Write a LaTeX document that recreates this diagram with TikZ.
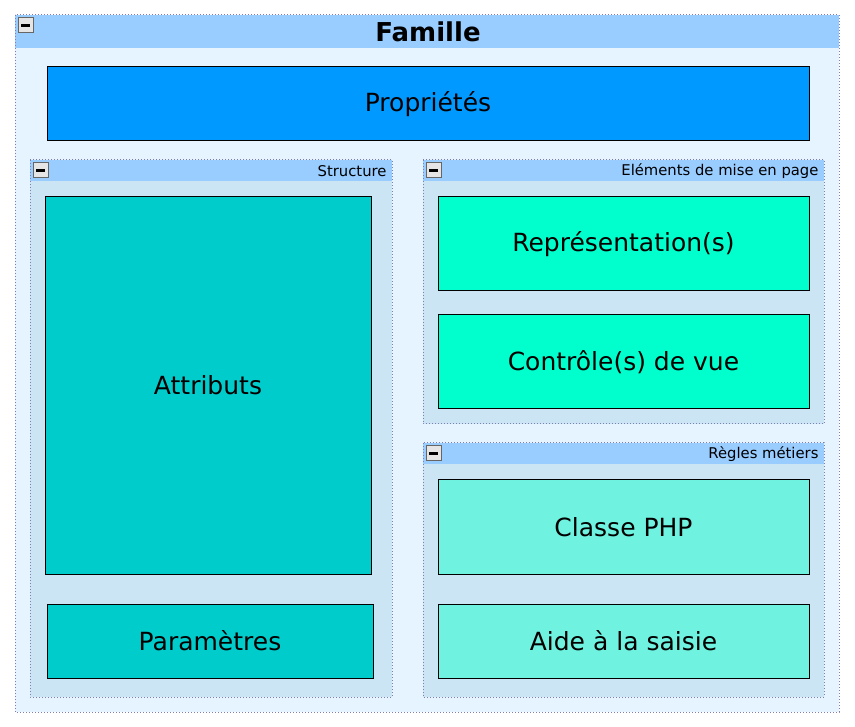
\documentclass[tikz,border=0pt]{standalone}
\usepackage{fontspec}
\setmainfont{DejaVu Sans}
\usepackage{tikz}
\usetikzlibrary{shapes}

\definecolor{framebg}{HTML}{E6F4FF}
\definecolor{headbg}{HTML}{99CCFF}
\definecolor{groupbg}{HTML}{CCE5F5}
\definecolor{dotcol}{HTML}{8080B0}
\definecolor{propcol}{HTML}{0099FF}
\definecolor{structcol}{HTML}{00CCCC}
\definecolor{miscol}{HTML}{00FFCC}
\definecolor{regcol}{HTML}{6FF2E0}

\begin{document}
\begin{tikzpicture}[x=1pt,y=-1pt,line width=1pt]
\tikzstyle{frame}=[rectangle,draw=dotcol,dash pattern=on 1pt off 2pt,line width=1pt]
\tikzstyle{item}=[rectangle,draw=black,inner sep=0pt,font=\fontsize{25}{29}\selectfont]
\tikzstyle{toggle}=[rectangle,draw=gray!80!black,fill=gray!20,minimum size=15pt,inner sep=0pt,
  path picture={\fill[black] (path picture bounding box.center) +(-4.5,-1.5) rectangle +(4.5,1.5);}]
\tikzstyle{grouplabel}=[anchor=east,inner sep=0pt,font=\fontsize{14.8}{17}\selectfont]
\useasboundingbox (0,0) rectangle (855,727);

% outer frame
\fill[framebg] (15,15) rectangle (839,712);
\fill[headbg] (15,15) rectangle (839,48);
\draw[frame] (15,15) rectangle (839,712);
\node[toggle] (ftoggle) at (25.5,25.5) {};
\node[font=\bfseries\fontsize{26}{30}\selectfont] (famille) at (428,32) {Famille};

\node[item,fill=propcol,minimum width=762pt,minimum height=74pt] (prop) at (428,104) {Propriétés};

% groups
\foreach \name/\xa/\ya/\xb/\yb/\txt in {struct/30/160/392/697/Structure,
    mise/423/160/824/424/Eléments de mise en page,
    regles/423/443/824/697/Règles métiers}{
  \fill[groupbg] (\xa,\ya) rectangle (\xb,\yb);
  \fill[headbg] (\xa,\ya) rectangle (\xb,\ya+21);
  \draw[frame] (\xa,\ya) rectangle (\xb,\yb);
  \node[toggle] (\name-toggle) at (\xa+10.5,\ya+10.5) {};
  \node[grouplabel] (\name-label) at (\xb-5,\ya+11) {\txt};
}

% structure
\node[item,fill=structcol,minimum width=326pt,minimum height=377pt] (attr) at (208,385.5) {Attributs};
\node[item,fill=structcol,minimum width=326pt,minimum height=74pt] (param) at (210,641) {Paramètres};

% mise en page
\node[item,fill=miscol,minimum width=371pt,minimum height=94pt] (repr) at (623.5,244) {Représentation(s)};
\node[item,fill=miscol,minimum width=371pt,minimum height=94pt] (ctrl) at (623.5,362) {Contrôle(s) de vue};

% regles metiers
\node[item,fill=regcol,minimum width=371pt,minimum height=94pt] (php) at (623.5,527) {Classe PHP};
\node[item,fill=regcol,minimum width=371pt,minimum height=74pt] (aide) at (623.5,641) {Aide à la saisie};

\end{tikzpicture}
\end{document}
